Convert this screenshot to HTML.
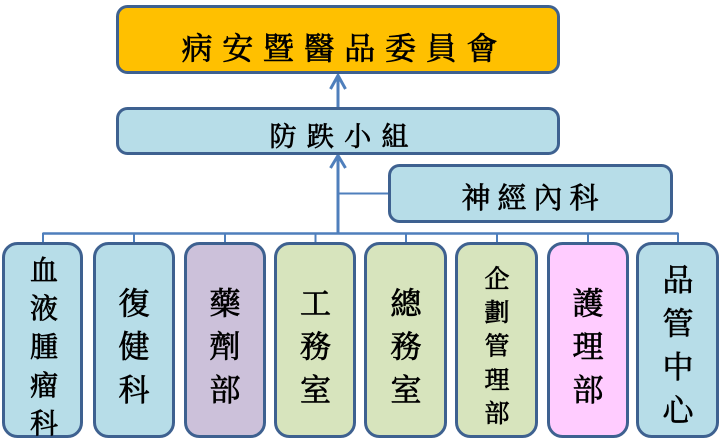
<!DOCTYPE html>
<html>
<head>
<meta charset="utf-8">
<style>
  html,body{margin:0;padding:0;background:#fff;}
  body{width:726px;height:441px;overflow:hidden;}
  svg{display:block;}
  text{font-family:"Noto Serif CJK SC","Noto Serif CJK TC","Noto Sans CJK TC",serif;fill:#000;stroke:#000;stroke-width:0.7px;text-anchor:middle;dominant-baseline:central;}
</style>
</head>
<body>
<svg width="726" height="441" viewBox="0 0 726 441" xmlns="http://www.w3.org/2000/svg">
  <!-- connectors -->
  <g stroke="#4f7fbc" fill="none" stroke-linecap="butt">
    <line x1="338" y1="107" x2="338" y2="75" stroke-width="3"/>
    <polyline points="330.5,89 338,75.5 345.5,89" stroke-width="3" stroke-linejoin="miter"/>
    <line x1="338" y1="156" x2="338" y2="233" stroke-width="3"/>
    <polyline points="330.5,168 338,155.5 345.5,168" stroke-width="3"/>
    <line x1="338" y1="193.5" x2="390" y2="193.5" stroke-width="2"/>
    <line x1="42.5" y1="233.5" x2="678.5" y2="233.5" stroke-width="2.5"/>
    <line x1="43" y1="233" x2="43" y2="244" stroke-width="2"/>
    <line x1="134" y1="233" x2="134" y2="244" stroke-width="2"/>
    <line x1="225" y1="233" x2="225" y2="244" stroke-width="2"/>
    <line x1="315.5" y1="233" x2="315.5" y2="244" stroke-width="2"/>
    <line x1="406" y1="233" x2="406" y2="244" stroke-width="2"/>
    <line x1="497" y1="233" x2="497" y2="244" stroke-width="2"/>
    <line x1="588" y1="233" x2="588" y2="244" stroke-width="2"/>
    <line x1="678" y1="233" x2="678" y2="244" stroke-width="2"/>
  </g>

  <!-- boxes -->
  <g stroke="#3e6190" stroke-width="3">
    <rect x="117.5" y="6.5" width="441" height="66" rx="10" fill="#ffc000"/>
    <rect x="117.5" y="108.5" width="441" height="45" rx="10" fill="#b7dde8"/>
    <rect x="389.5" y="165.5" width="282" height="56" rx="10" fill="#b7dde8"/>

    <rect x="3.5" y="243.5" width="78" height="193" rx="14" fill="#b7dde8"/>
    <rect x="94.5" y="243.5" width="79" height="193" rx="14" fill="#b7dde8"/>
    <rect x="185.5" y="243.5" width="79" height="193" rx="14" fill="#ccc1da"/>
    <rect x="275.5" y="243.5" width="79" height="193" rx="14" fill="#d7e4bd"/>
    <rect x="365.5" y="243.5" width="80" height="193" rx="14" fill="#d7e4bd"/>
    <rect x="456.5" y="243.5" width="80" height="193" rx="14" fill="#d7e4bd"/>
    <rect x="548.5" y="243.5" width="79" height="193" rx="14" fill="#ffccff"/>
    <rect x="637.5" y="243.5" width="80" height="193" rx="14" fill="#b7dde8"/>
  </g>

  <!-- title -->
  <g font-size="31">
    <text x="197" y="46">病</text>
    <text x="237.7" y="46">安</text>
    <text x="278.4" y="46">暨</text>
    <text x="319.1" y="46">醫</text>
    <text x="359.8" y="46">品</text>
    <text x="400.5" y="46">委</text>
    <text x="441.2" y="46">員</text>
    <text x="482" y="46">會</text>
  </g>

  <g font-size="27">
    <text x="283" y="134.5">防</text>
    <text x="320.3" y="134.5">跌</text>
    <text x="357.7" y="134.5">小</text>
    <text x="395" y="134.5">組</text>
  </g>

  <g font-size="29">
    <text x="476" y="196.5">神</text>
    <text x="512" y="196.5">經</text>
    <text x="548" y="196.5">內</text>
    <text x="584" y="196.5">科</text>
  </g>

  <!-- bottom vertical texts -->
  <g font-size="28">
    <text x="44" y="269">血</text>
    <text x="44" y="307">液</text>
    <text x="44" y="345.5">腫</text>
    <text x="44" y="384">瘤</text>
    <text x="44" y="422">科</text>
  </g>
  <g font-size="31">
    <text x="134" y="301">復</text>
    <text x="134" y="344">健</text>
    <text x="134" y="387.5">科</text>

    <text x="225" y="301">藥</text>
    <text x="225" y="344">劑</text>
    <text x="225" y="387.5">部</text>

    <text x="315.5" y="301">工</text>
    <text x="315.5" y="344">務</text>
    <text x="315.5" y="387.5">室</text>

    <text x="406" y="301">總</text>
    <text x="406" y="344">務</text>
    <text x="406" y="387.5">室</text>

    <text x="588" y="301">護</text>
    <text x="588" y="344">理</text>
    <text x="588" y="387.5">部</text>

    <text x="678" y="277.5">品</text>
    <text x="678" y="321">管</text>
    <text x="678" y="364.5">中</text>
    <text x="678" y="408">心</text>
  </g>
  <g font-size="25">
    <text x="497" y="277.5">企</text>
    <text x="497" y="311">劃</text>
    <text x="497" y="344.7">管</text>
    <text x="497" y="378.3">理</text>
    <text x="497" y="412">部</text>
  </g>
</svg>
</body>
</html>
